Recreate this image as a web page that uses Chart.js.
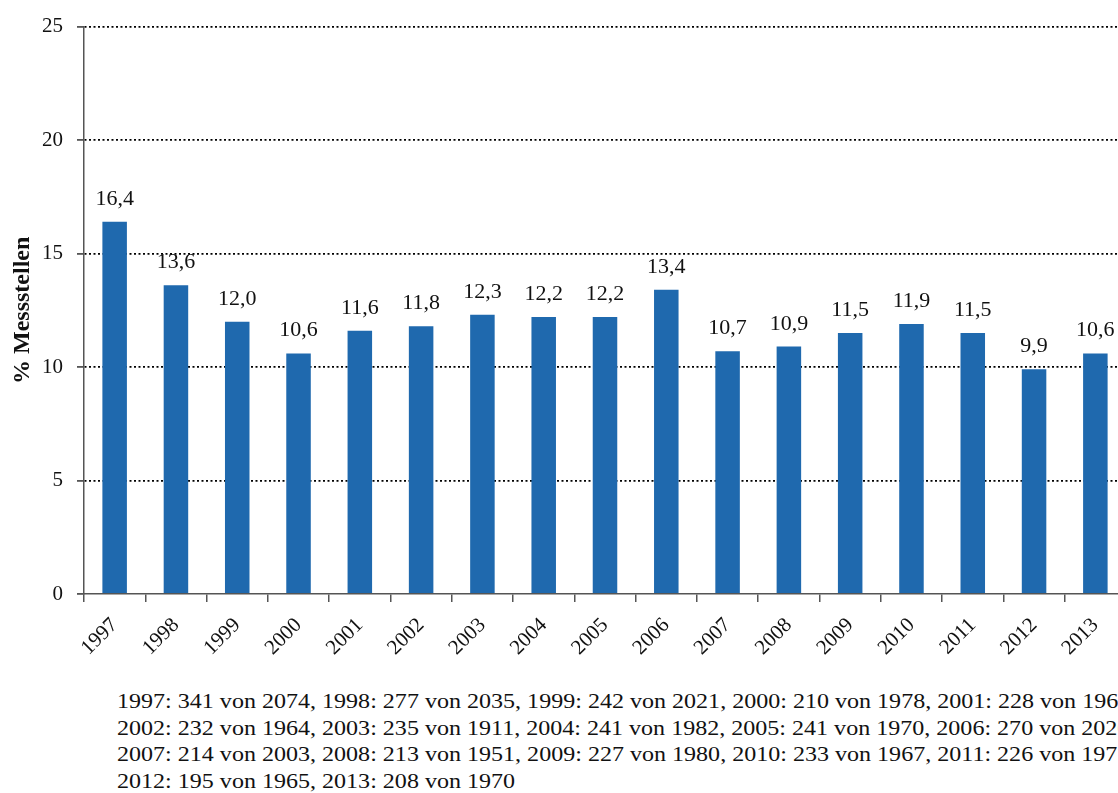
<!DOCTYPE html>
<html>
<head>
<meta charset="utf-8">
<script src="https://cdn.jsdelivr.net/npm/chart.js@4"></script>
<style>
    html, body { margin: 0; padding: 0; background: #fff; overflow: hidden; }
    #wrap { position: relative; width: 1126px; height: 660px; }
    #note {
        position: absolute;
        left: 117px;
        top: 688px;
        font: 21px "Liberation Serif", "Times New Roman", serif;
        line-height: 26.7px;
        color: #111;
        white-space: pre;
        transform: scaleX(1.145);
        transform-origin: 0 0;
    }
</style>
</head>
<body>
<div id="wrap"><canvas id="chart" width="1126" height="660"></canvas></div>
<div id="note"></div>
<script>
const years = ["1997", "1998", "1999", "2000", "2001", "2002", "2003", "2004", "2005",
    "2006", "2007", "2008", "2009", "2010", "2011", "2012", "2013"];
const percent = [16.4, 13.6, 12.0, 10.6, 11.6, 11.8, 12.3, 12.2, 12.2,
    13.4, 10.7, 10.9, 11.5, 11.9, 11.5, 9.9, 10.6];
const positives = [341, 277, 242, 210, 228, 232, 235, 241, 241,
    270, 214, 213, 227, 233, 226, 195, 208];
const totals = [2074, 2035, 2021, 1978, 1965, 1964, 1911, 1982, 1970,
    2020, 2003, 1951, 1980, 1967, 1971, 1965, 1970];
const yTicks = [0, 5, 10, 15, 20, 25];

const serif = '"Liberation Serif", "Times New Roman", serif';

// footnote: 5 entries per line
const parts = years.map((y, i) => `${y}: ${positives[i]} von ${totals[i]}`);
const lines = [];
for (let i = 0; i < parts.length; i += 5) {
    lines.push(parts.slice(i, i + 5).join(", ") + (i + 5 < parts.length ? "," : ""));
}
document.getElementById("note").textContent = lines.join("\n");

const valueLabels = {
    id: "valueLabels",
    afterDatasetsDraw: (chart) => {
        const { ctx } = chart;
        const meta = chart.getDatasetMeta(0);
        ctx.save();
        ctx.font = "20px " + serif;
        ctx.fillStyle = "#111";
        ctx.textAlign = "center";
        ctx.textBaseline = "alphabetic";
        meta.data.forEach((bar, i) => {
            const txt = percent[i].toFixed(1).replace(".", ",");
            ctx.save();
            ctx.translate(bar.x, bar.y - 17);
            ctx.scale(1.1, 1);
            ctx.fillText(txt, 0, 0);
            ctx.restore();
        });
        ctx.restore();
    },
};

const ctx = document.getElementById("chart").getContext("2d");
new Chart(ctx, {
    type: "bar",
    data: {
        labels: years,
        datasets: [
            {
                data: percent,
                backgroundColor: "#1f69ae",
                barPercentage: 0.40,
                categoryPercentage: 1,
            },
        ],
    },
    options: {
        responsive: false,
        animation: false,
        layout: { padding: { top: 24, left: 0, right: 0, bottom: 0 } },
        plugins: {
            legend: { display: false },
            tooltip: { enabled: false },
        },
        scales: {
            x: {
                afterFit: (scale) => { scale.height = 66; },
                grid: {
                    display: true,
                    drawOnChartArea: false,
                    tickLength: 8,
                    color: "#555",
                    lineWidth: 1.5,
                },
                border: { color: "#555", width: 1.5 },
                ticks: {
                    minRotation: 45,
                    maxRotation: 45,
                    color: "#111",
                    padding: 11,
                    font: { family: serif, size: 21 },
                },
            },
            y: {
                min: 0,
                max: 25,
                afterFit: (scale) => { scale.width = 84; },
                afterBuildTicks: (scale) => {
                    scale.ticks = yTicks.map((v) => ({ value: v }));
                },
                grid: {
                    color: (c) => (c.tick && c.tick.value === 0 ? "rgba(0,0,0,0)" : "#000"),
                    lineWidth: 1.8,
                    tickLength: 7,
                    tickColor: "#555",
                    tickBorderDash: [],
                },
                border: { color: "#555", width: 1.5, dash: [2, 2.5] },
                ticks: {
                    color: "#111",
                    padding: 14,
                    font: { family: serif, size: 21 },
                },
                title: {
                    display: true,
                    text: "% Messstellen",
                    color: "#111",
                    font: { family: serif, size: 24, weight: "bold" },
                    padding: { top: 8, bottom: 0 },
                },
            },
        },
    },
    plugins: [valueLabels],
});
</script>
</body>
</html>
